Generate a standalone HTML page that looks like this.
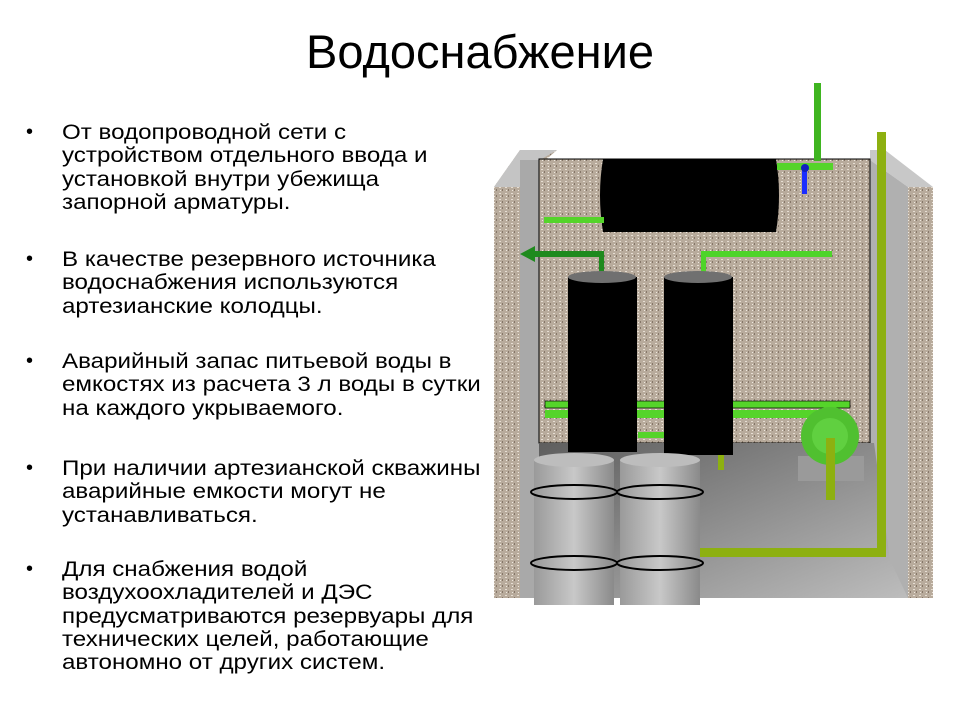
<!DOCTYPE html>
<html><head><meta charset="utf-8"><style>
body{margin:0;width:960px;height:720px;background:#fff;position:relative;overflow:hidden;font-family:"Liberation Sans",Arial,sans-serif}
h1{position:absolute;top:24px;left:0;width:960px;text-align:center;margin:0;font-weight:normal;font-size:47px;color:#000}
.p{position:absolute;left:62px;white-space:nowrap;font-size:21px;line-height:23.3px;color:#000;transform:scaleX(1.15);transform-origin:0 0}
.b{position:absolute;left:26px;font-size:20px}
</style></head><body>
<h1>Водоснабжение</h1>
<div class="b" style="top:121px">•</div><div class="p" style="top:121px">От водопроводной сети с<br>устройством отдельного ввода и<br>установкой внутри убежища<br>запорной арматуры.</div>
<div class="b" style="top:248px">•</div><div class="p" style="top:248px">В качестве резервного источника<br>водоснабжения используются<br>артезианские колодцы.</div>
<div class="b" style="top:350px">•</div><div class="p" style="top:350px">Аварийный запас питьевой воды в<br>емкостях из расчета 3 л воды в сутки<br>на каждого укрываемого.</div>
<div class="b" style="top:457px">•</div><div class="p" style="top:457px">При наличии артезианской скважины<br>аварийные емкости могут не<br>устанавливаться.</div>
<div class="b" style="top:558px">•</div><div class="p" style="top:558px">Для снабжения водой<br>воздухоохладителей и ДЭС<br>предусматриваются резервуары для<br>технических целей, работающие<br>автономно от других систем.</div>
<svg style="position:absolute;left:0;top:0" width="960" height="720">
<defs>
<pattern id="g" width="6" height="6" patternUnits="userSpaceOnUse"><rect width="6" height="6" fill="#b8ab9c"/><rect x="1" y="1" width="2" height="1" fill="#e6ddd2"/><rect x="4" y="3" width="1" height="2" fill="#857668"/><rect x="2" y="4" width="1" height="1" fill="#efe9e0"/></pattern>
<linearGradient id="fl" x1="0" y1="0" x2="1" y2="1"><stop offset="0" stop-color="#5e5e5e"/><stop offset="1" stop-color="#bdbdbd"/></linearGradient>
<linearGradient id="br" x1="0" x2="1"><stop offset="0" stop-color="#9a9a9a"/><stop offset=".5" stop-color="#c8c8c8"/><stop offset="1" stop-color="#8a8a8a"/></linearGradient>
</defs>
<polygon points="494,187 520,150 557,150 540,165 540,598 494,598" fill="url(#g)"/>
<polygon points="494,187 520,150 557,150 540,160 520,187" fill="#c4c4c4"/>
<rect x="520" y="160" width="20" height="438" fill="#a9a9a9"/>
<polygon points="870,150 885,150 933,187 933,598 908,598 908,187 870,160" fill="#c8c8c8"/>
<rect x="908" y="187" width="25" height="411" fill="url(#g)"/>
<polygon points="870,160 908,187 908,598 870,598" fill="#b0b0b0"/>
<rect x="539" y="159" width="331" height="284" fill="url(#g)" stroke="#000" stroke-width="1"/>
<polygon points="539,443 874,443 890,560 908,598 539,598" fill="url(#fl)"/>
<path d="M603,159 H776 Q782,195 776,232 H603 Q597,195 603,159Z" fill="#000"/>
<rect x="544" y="217" width="60" height="6" fill="#55d42a"/>
<rect x="814" y="83" width="7" height="78" fill="#3fb520"/>
<rect x="777" y="163" width="56" height="7" fill="#55d42a"/>
<rect x="802" y="166" width="5" height="28" fill="#1a2cff"/>
<circle cx="805" cy="168" r="4" fill="#1020c0"/>
<rect x="545" y="401" width="305" height="7" fill="#55d42a" stroke="#000" stroke-width="0.7"/>
<rect x="545" y="410" width="280" height="8" fill="#55d42a"/>
<rect x="638" y="432" width="30" height="6" fill="#55d42a"/>
<polygon points="520,254 535,246 535,251 604,251 604,277 599,277 599,257 535,257 535,262" fill="#1e8a1e"/>
<rect x="704" y="251" width="128" height="6" fill="#4ed42a"/>
<rect x="701" y="251" width="5" height="27" fill="#4ed42a"/>
<rect x="568" y="277" width="69" height="175" fill="#000"/>
<ellipse cx="602" cy="277" rx="34" ry="6" fill="#707070"/>
<rect x="664" y="277" width="69" height="178" fill="#000"/>
<ellipse cx="698" cy="277" rx="34" ry="6" fill="#707070"/>
<rect x="718" y="455" width="6" height="15" fill="#8db010"/>
<rect x="798" y="456" width="66" height="25" fill="#9a9a9a"/>
<circle cx="830" cy="436" r="29" fill="#50c030"/>
<circle cx="830" cy="436" r="18" fill="#60d040"/>
<rect x="826" y="438" width="9" height="62" fill="#8db010"/>
<rect x="877" y="132" width="9" height="425" fill="#8db010"/>
<rect x="700" y="548" width="186" height="9" fill="#8db010"/>
<rect x="534" y="460" width="80" height="145" fill="url(#br)"/>
<ellipse cx="574" cy="460" rx="40" ry="7" fill="#bdbdbd"/>
<ellipse cx="574" cy="492" rx="43" ry="7" fill="none" stroke="#000" stroke-width="2"/>
<ellipse cx="574" cy="563" rx="43" ry="7" fill="none" stroke="#000" stroke-width="2"/>
<rect x="620" y="460" width="80" height="145" fill="url(#br)"/>
<ellipse cx="660" cy="460" rx="40" ry="7" fill="#bdbdbd"/>
<ellipse cx="660" cy="492" rx="43" ry="7" fill="none" stroke="#000" stroke-width="2"/>
<ellipse cx="660" cy="563" rx="43" ry="7" fill="none" stroke="#000" stroke-width="2"/>
</svg>
</body></html>
